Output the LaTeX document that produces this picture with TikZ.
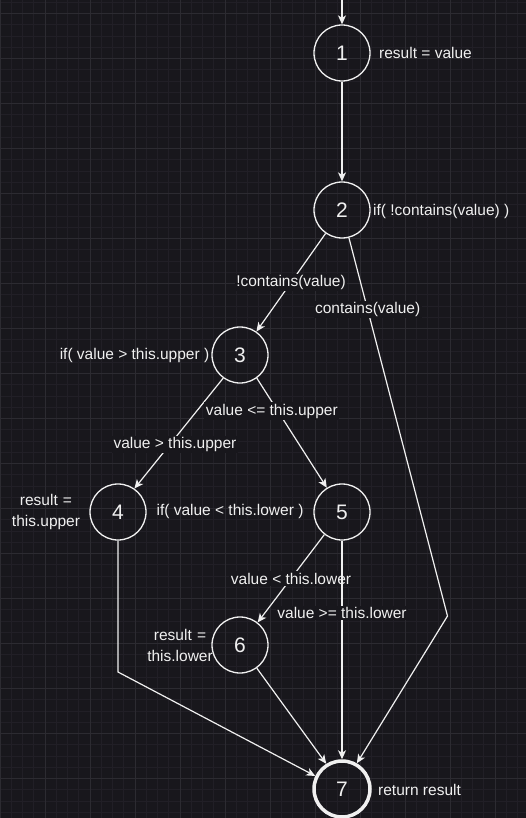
\documentclass[tikz,border=0pt]{standalone}
\usepackage{fontspec}
\setmainfont{Liberation Sans}
\usetikzlibrary{arrows.meta}
\definecolor{bgc}{HTML}{18171C}
\definecolor{minorc}{HTML}{211F26}
\definecolor{majorc}{HTML}{2C2B31}
\definecolor{fg}{HTML}{F0F0F0}
\tikzset{
  st/.style={circle, draw=fg, line width=1.3pt, minimum size=56pt, inner sep=0pt, text=fg, font=\fontsize{21}{24}\selectfont},
  endst/.style={st, line width=3.5pt},
  note/.style={text=fg, font=\fontsize{15.5}{19}\selectfont, inner sep=0pt, align=center},
  lbl/.style={text=fg, font=\fontsize{15.5}{19}\selectfont, fill=bgc, inner sep=1.5pt},
  edge/.style={draw=fg, line width=1.2pt, -{Stealth[length=9pt,width=8pt,inset=2.5pt]}},
  seg/.style={draw=fg, line width=1.2pt}
}
\begin{document}
\begin{tikzpicture}[x=1pt,y=-1pt]
\fill[bgc] (0,0) rectangle (526,818);
\useasboundingbox (0,0) rectangle (526,818);
% minor grid
\foreach \i in {0,...,47} {\draw[minorc, line width=0.8pt] ({\i*11.25},0) -- ({\i*11.25},818);}
\foreach \i in {0,...,73} {\draw[minorc, line width=0.8pt] (0,{2.25+\i*11.25}) -- (526,{2.25+\i*11.25});}
% major grid
\foreach \i in {0,...,11} {\draw[majorc, line width=1pt] ({\i*45},0) -- ({\i*45},818);}
\foreach \i in {0,...,18} {\draw[majorc, line width=1pt] (0,{13.5+\i*45}) -- (526,{13.5+\i*45});}

% states
\node[st] (n1) at (342,53) {1};
\node[st] (n2) at (342,210) {2};
\node[st] (n3) at (240,355) {3};
\node[st] (n4) at (118,512) {4};
\node[st] (n5) at (342,512) {5};
\node[st] (n6) at (240,645) {6};
\node[endst] (n7) at (342,789) {7};

% notes
\node[note, anchor=west] (t1) at (379,53) {result = value};
\node[note, anchor=west] (t2) at (373,211) {if( !contains(value) )};
\node[note] (t3) at (134.5,355) {if( value > this.upper )};
\node[note, align=center, text width=80pt] (t4) at (46,512) {result =\\[2pt]this.upper};
\node[note] (t5) at (230,511) {if( value < this.lower )};
\node[note, text width=80pt] (t6) at (180,645) {result =\\[2pt]this.lower};
\node[note, anchor=west] (t7) at (378,790) {return result};

% connectors
\coordinate (start) at (342,0);
\coordinate (b27) at (447.5,616);
\coordinate (b47) at (118,672);
\draw[edge] (start) -- (n1);
\draw[edge] (n1) -- (n2);
\draw[edge] (n2.-125) -- node[lbl, pos=0.5] (l23) {!contains(value)} (n3.55);
\draw[edge] (n2.-76) -- node[lbl, pos=0.19] (l27) {contains(value)} (b27) -- (n7.60);
\draw[edge] (n3.-126) -- node[lbl, pos=0.6, xshift=5pt] (l34) {value > this.upper} (n4.55);
\draw[edge] (n3.-54) -- node[lbl, pos=0.3, xshift=-6pt] (l35) {value <= this.upper} (n5.122);
\draw[edge] (n4.south) -- (b47) -- (n7.154);
\draw[edge] (n5.-128) -- node[lbl, pos=0.5] (l56) {value < this.lower} (n6.52);
\draw[edge] (n5.south) -- node[lbl, pos=0.33] (l57) {value >= this.lower} (n7.north);
\draw[edge] (n6.-54) -- (n7.122);
\end{tikzpicture}
\end{document}
